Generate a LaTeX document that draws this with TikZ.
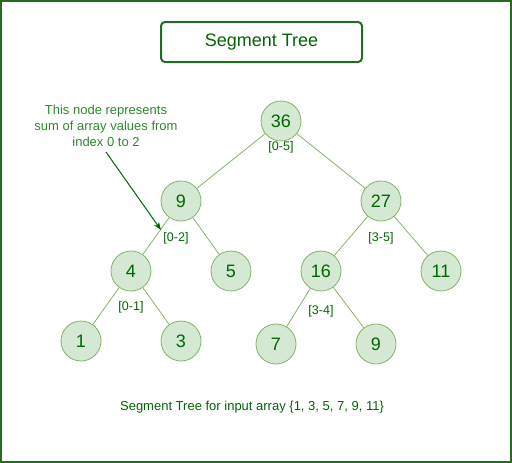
\documentclass[tikz,border=0pt]{standalone}
\usepackage{fontspec}
\setmainfont{Liberation Sans}
\usetikzlibrary{arrows.meta}
\definecolor{nodefill}{HTML}{D5E8D4}
\definecolor{nodeline}{HTML}{82B366}
\definecolor{dgreen}{HTML}{006600}
\definecolor{bgreen}{HTML}{1F6F1F}
\definecolor{agreen}{HTML}{2D8A2D}
\tikzset{
  tnode/.style={circle, draw=nodeline, fill=nodefill, line width=0.8pt, minimum size=40pt, inner sep=0pt, text=dgreen, font=\fontsize{18}{20}\selectfont},
  edge/.style={draw=nodeline, line width=0.8pt},
  rlabel/.style={text=dgreen, font=\fontsize{12.5}{14}\selectfont, inner sep=0pt},
}
\begin{document}
\begin{tikzpicture}[x=1pt,y=-1pt]
\useasboundingbox (0,0) rectangle (512,463);
\draw[bgreen, line width=2pt] (1,1) rectangle (511,462);
\node[draw=bgreen, line width=2pt, rounded corners=4pt, minimum width=201pt, minimum height=40pt, text=dgreen, font=\fontsize{18}{20}\selectfont] (title) at (261.5,42) {Segment Tree};

\node[tnode] (n36) at (281,121) {36};
\node[tnode] (n9) at (181,201) {9};
\node[tnode] (n27) at (381,201) {27};
\node[tnode] (n4) at (131,271) {4};
\node[tnode] (n5) at (231,271) {5};
\node[tnode] (n16) at (321,271) {16};
\node[tnode] (n11) at (441,271) {11};
\node[tnode] (n1) at (81,341) {1};
\node[tnode] (n3) at (181,341) {3};
\node[tnode] (n7) at (276,344) {7};
\node[tnode] (n9b) at (376,344) {9};

\draw[edge] (n36) -- (n9);
\draw[edge] (n36) -- (n27);
\draw[edge] (n9) -- (n4);
\draw[edge] (n9) -- (n5);
\draw[edge] (n27) -- (n16);
\draw[edge] (n27) -- (n11);
\draw[edge] (n4) -- (n1);
\draw[edge] (n4) -- (n3);
\draw[edge] (n16) -- (n7);
\draw[edge] (n16) -- (n9b);

\node[rlabel] (l05) at (281,147) {[0-5]};
\node[rlabel] (l02) at (176,238) {[0-2]};
\node[rlabel] (l01) at (131,307) {[0-1]};
\node[rlabel] (l35) at (381,238) {[3-5]};
\node[rlabel] (l34) at (321,311) {[3-4]};

\node[text=agreen, font=\fontsize{13}{16}\selectfont, align=center, inner sep=1pt] (note) at (106,126) {This node represents\\sum of array values from\\index 0 to 2};
\coordinate (as) at (106,152);
\coordinate (ae) at (161,230);
\draw[dgreen, line width=1pt, -{Stealth[length=8pt,width=6pt]}] (as) -- (ae);

\node[text=dgreen, font=\fontsize{13}{14}\selectfont] (cap) at (252,407) {Segment Tree for input array \{1, 3, 5, 7, 9, 11\}};
\end{tikzpicture}
\end{document}
